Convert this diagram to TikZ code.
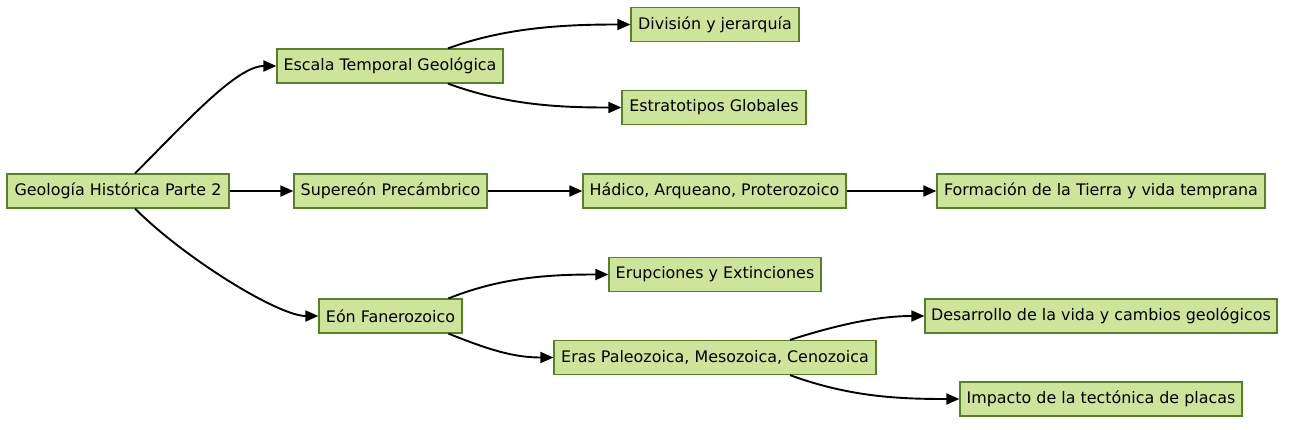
\documentclass[tikz,border=0pt]{standalone}
\usepackage{fontspec}
\setmainfont{DejaVu Sans}
\usetikzlibrary{arrows.meta}
\definecolor{boxfill}{RGB}{205,229,155}
\definecolor{boxline}{RGB}{88,128,40}
\tikzset{
  box/.style={draw=boxline, fill=boxfill, line width=1.2pt, inner sep=0pt,
    minimum height=34pt, font=\fontsize{15.9}{18}\selectfont, text=black},
  link/.style={line width=1.9pt, -{Triangle[length=13pt,width=11pt]}}
}
\begin{document}
\begin{tikzpicture}[x=1pt,y=-1pt]
\useasboundingbox (0,0) rectangle (1299,429);
\node[box, minimum width=222pt] (geo) at (118,191) {Geología Histórica Parte 2};
\node[box, minimum width=226pt] (esc) at (390,66) {Escala Temporal Geológica};
\node[box, minimum width=168pt] (div) at (715,24.5) {División y jerarquía};
\node[box, minimum width=184pt] (est) at (714,107.5) {Estratotipos Globales};
\node[box, minimum width=193pt] (sup) at (390.5,191) {Supereón Precámbrico};
\node[box, minimum width=263pt] (had) at (714.5,191) {Hádico, Arqueano, Proterozoico};
\node[box, minimum width=328pt] (for) at (1101,191) {Formación de la Tierra y vida temprana};
\node[box, minimum width=143pt] (eon) at (390.5,316) {Eón Fanerozoico};
\node[box, minimum width=212pt] (eru) at (715,274.5) {Erupciones y Extinciones};
\node[box, minimum width=322pt] (era) at (715,357.5) {Eras Paleozoica, Mesozoica, Cenozoica};
\node[box, minimum width=352pt] (des) at (1101,316) {Desarrollo de la vida y cambios geológicos};
\node[box, minimum width=282pt] (imp) at (1101,399) {Impacto de la tectónica de placas};

\draw[link] ([xshift=17pt]geo.north) .. controls +(50,-50) and +(-40,0) .. (esc.west);
\draw[link] (geo.east) -- (sup.west);
\draw[link] ([xshift=17pt]geo.south) .. controls +(50,50) and +(-40,0) .. (eon.west);
\draw[link] ([xshift=58pt]esc.north) .. controls +(60,-22) and +(-60,0) .. (div.west);
\draw[link] ([xshift=58pt]esc.south) .. controls +(60,22) and +(-60,0) .. (est.west);
\draw[link] (sup.east) -- (had.west);
\draw[link] (had.east) -- (for.west);
\draw[link] ([xshift=58pt]eon.north) .. controls +(55,-22) and +(-55,0) .. (eru.west);
\draw[link] ([xshift=58pt]eon.south) .. controls +(40,16) and +(-40,0) .. (era.west);
\draw[link] ([xshift=75pt]era.north) .. controls +(50,-16) and +(-45,0) .. (des.west);
\draw[link] ([xshift=75pt]era.south) .. controls +(60,22) and +(-60,0) .. (imp.west);
\end{tikzpicture}
\end{document}
